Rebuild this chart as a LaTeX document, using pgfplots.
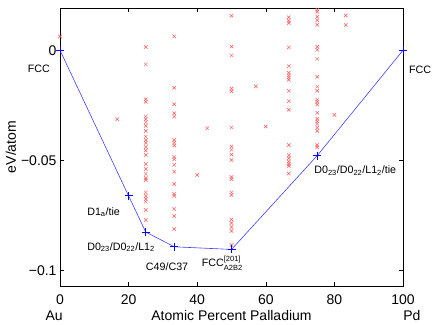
\documentclass[border=0pt]{standalone}
\usepackage{fontspec}
\setmainfont{Liberation Sans}
\usepackage{pgfplots}
\pgfplotsset{compat=1.18}

\pgfplotstableread{
x y
0 0.0063
16.7 -0.0313
25 0.0015
25 -0.0064
25 -0.0222
25 -0.0234
25 -0.0300
25 -0.0313
25 -0.0326
25 -0.0343
25 -0.0366
25 -0.0392
25 -0.0407
25 -0.0420
25 -0.0439
25 -0.0455
25 -0.0475
25 -0.0516
25 -0.0539
25 -0.0561
25 -0.0580
25 -0.0589
25 -0.0645
25 -0.0661
25 -0.0675
25 -0.0687
25 -0.0725
25 -0.0770
33.3 0.0063
33.3 -0.0170
33.3 -0.0245
33.3 -0.0286
33.3 -0.0301
33.3 -0.0407
33.3 -0.0419
33.3 -0.0432
33.3 -0.0484
33.3 -0.0495
33.3 -0.0520
33.3 -0.0551
33.3 -0.0607
33.3 -0.0652
33.3 -0.0661
33.3 -0.0720
33.3 -0.0752
33.3 -0.0811
40 -0.0566
42.9 -0.0354
50 0.0157
50 0.0017
50 -0.0023
50 -0.0173
50 -0.0186
50 -0.0350
50 -0.0437
50 -0.0452
50 -0.0473
50 -0.0498
50 -0.0575
50 -0.0585
50 -0.0645
50 -0.0657
50 -0.0768
50 -0.0784
50 -0.0802
50 -0.0820
50 -0.0884
57.1 -0.0164
60 -0.0346
66.7 0.0150
66.7 0.0134
66.7 0.0124
66.7 0.0013
66.7 -0.0072
66.7 -0.0102
66.7 -0.0114
66.7 -0.0123
66.7 -0.0134
66.7 -0.0184
66.7 -0.0231
66.7 -0.0270
66.7 -0.0430
66.7 -0.0477
66.7 -0.0490
66.7 -0.0505
66.7 -0.0516
66.7 -0.0525
66.7 -0.0559
75 0.0185
75 0.0175
75 0.0152
75 0.0136
75 0.0116
75 0.0016
75 0.0002
75 -0.0039
75 -0.0120
75 -0.0165
75 -0.0184
75 -0.0224
75 -0.0234
75 -0.0246
75 -0.0284
75 -0.0311
75 -0.0323
75 -0.0334
75 -0.0352
75 -0.0366
75 -0.0430
75 -0.0440
80 -0.0293
83.3 0.0158
83.3 0.0115
}\structures

\pgfplotstableread{
x y
0 0
20 -0.0661
25 -0.0825
33.33 -0.0892
50 -0.0904
75 -0.0478
100 0
}\hull

\newcommand{\sub}[1]{\textsubscript{#1}}

\begin{document}
\begin{tikzpicture}
\begin{axis}[
  scale only axis,
  width=343pt, height=278pt,
  xmin=0, xmax=100,
  ymin=-0.107, ymax=0.0192,
  xtick={0,20,40,60,80,100},
  ytick={-0.1,-0.05,0},
  yticklabels={−0.1,−0.05,0},
  tick align=inside,
  major tick length=4pt,
  axis line style={line width=0.8pt},
  tick style={line width=0.6pt, black},
  tick label style={font=\fontsize{14}{16}\selectfont},
  xticklabel style={anchor=base, yshift=-18pt},
  /pgf/number format/assume math mode=true,
  xlabel={Atomic Percent Palladium},
  xlabel style={font=\fontsize{14}{16}\selectfont, at={(axis description cs:0.5,0)}, anchor=base, yshift=-34pt},
  ylabel={eV/atom},
  ylabel style={font=\fontsize{14}{16}\selectfont, at={(axis description cs:-0.118,0.5)}, anchor=south},
  clip=false,
]
\addplot[only marks, mark=x, mark size=2.5pt, color=red!65, mark options={line width=0.5pt}] table {\structures};
\addplot[color=blue!75, line width=0.6pt, mark=+, mark size=4pt, mark options={line width=0.9pt, blue}] table {\hull};

\node[font=\fontsize{14}{16}\selectfont, anchor=base] at (axis description cs:-0.017,0) [yshift=-34pt] {Au};
\node[font=\fontsize{14}{16}\selectfont, anchor=base] at (axis description cs:1.026,0) [yshift=-34pt] {Pd};

\begin{scope}[every node/.style={font=\fontsize{10.7}{12}\selectfont, inner sep=0pt}]
\node[anchor=east] at (axis cs:-2.9,-0.0084) {FCC};
\node[anchor=west] at (axis cs:101.7,-0.0089) {FCC};
\node[anchor=base west] at (axis cs:7.9,-0.0748) {D1\sub{a}/tie};
\node[anchor=base west] at (axis cs:7.9,-0.0907) {D0\sub{23}/D0\sub{22}/L1\sub{2}};
\node[anchor=base west] at (axis cs:25,-0.0998) {C49/C37};
\node[anchor=base west] at (axis cs:41.3,-0.0983) {FCC\raisebox{-3.5pt}{\fontsize{7.5}{8.5}\selectfont\begin{tabular}[b]{@{}l@{}}[201]\\A2B2\end{tabular}}};
\node[anchor=base west] at (axis cs:74.1,-0.0561) {D0\sub{23}/D0\sub{22}/L1\sub{2}/tie};
\end{scope}
\end{axis}
\path (current axis.south west) ++(-60pt,-38pt) rectangle ++(436pt,324pt);
\end{tikzpicture}
\end{document}
